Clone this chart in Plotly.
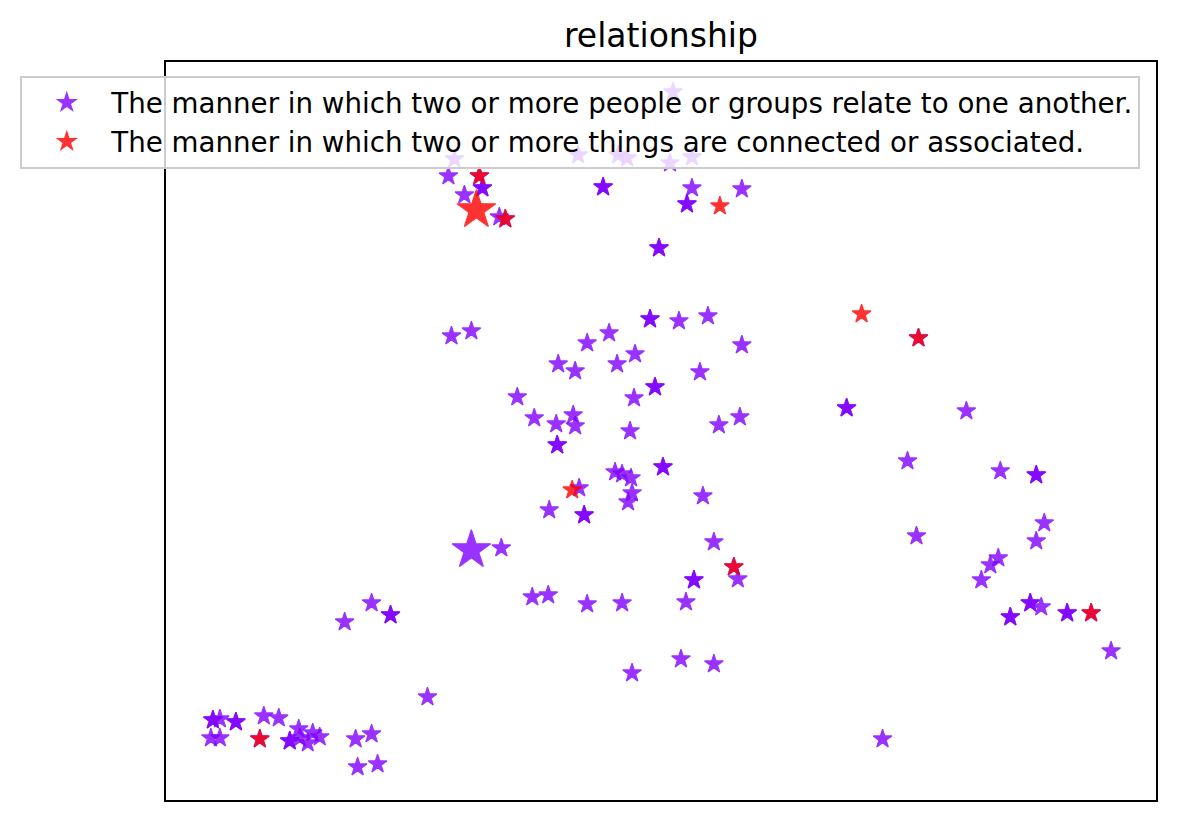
import plotly.graph_objects as go

# 2-D embedding of usages of "relationship" (arbitrary units, axes carry no ticks)
title = "relationship"
sense_labels = [
    "The manner in which two or more people or groups relate to one another.",
    "The manner in which two or more things are connected or associated.",
]
sense_colors = ["#8000ff", "#ff0000"]

# sense 0 usages (repeated pairs overlap and look darker)
people_x = [
    # top cluster
    289, 283, 317, 317, 299, 334, 413, 453, 462, 438, 438, 505, 527, 508, 527, 522, 522, 577,
    494, 494,
    # under the sense-1 points
    314, 340, 754, 569, 94, 927,
    # middle
    286, 306, 485, 485, 514, 543, 577, 422, 444, 393, 410, 452, 470, 535, 490, 490, 469, 352,
    369, 391, 408, 410, 465, 554, 575, 392, 392, 498, 498, 450, 457, 466, 414, 467, 463, 538,
    384, 419, 419, 549, 336,
    # lower middle
    573, 529, 529, 367, 383, 422, 457, 521, 206, 225, 225, 179, 262, 467, 516, 549,
    # bottom left
    47, 47, 54, 70, 70, 98, 113, 45, 54, 124, 124, 133, 134, 142, 147, 154, 190, 206, 192, 212,
    # right
    682, 682, 802, 743, 836, 872, 872, 880, 872, 752, 834, 826, 817, 866, 866, 877, 846, 846,
    903, 903, 947, 718,
]
people_y = [
    641, 624, 612, 612, 605, 583, 645, 645, 642, 613, 613, 637, 643, 708, 612, 596, 596, 611,
    552, 552,
    624, 581, 462, 233, 61, 187,
    464, 469, 481, 481, 479, 484, 455, 457, 467, 436, 429, 436, 446, 428, 413, 413, 402, 403,
    382, 376, 385, 374, 369, 375, 383, 355, 355, 333, 333, 328, 326, 322, 312, 307, 298, 304,
    290, 285, 285, 258, 252,
    221, 220, 220, 203, 205, 196, 197, 198, 197, 185, 185, 178, 103, 127, 141, 136,
    80, 80, 81, 78, 78, 84, 82, 62, 62, 59, 59, 71, 62, 57, 67, 63, 61, 66, 33, 36,
    392, 392, 389, 339, 329, 325, 325, 277, 259, 264, 242, 235, 220, 197, 197, 193, 183, 183,
    187, 187, 149, 61,
]

# sense 1 usages
things_x = [314, 340, 555, 407, 569, 94, 697, 754, 927]
things_y = [624, 581, 594, 310, 233, 61, 486, 462, 187]

# sense centroids (sense 0, sense 1)
centroid_x = [306, 311]
centroid_y = [250, 590]

fig = go.Figure()
fig.add_trace(go.Scatter(
    x=people_x, y=people_y, mode="markers", name=sense_labels[0],
    marker=dict(symbol="star", size=14, color=sense_colors[0], opacity=0.8,
                line=dict(color=sense_colors[0], width=1.2)),
))
fig.add_trace(go.Scatter(
    x=things_x, y=things_y, mode="markers", name=sense_labels[1],
    marker=dict(symbol="star", size=14, color=sense_colors[1], opacity=0.8,
                line=dict(color=sense_colors[1], width=1.2)),
))
fig.add_trace(go.Scatter(
    x=centroid_x, y=centroid_y, mode="markers", showlegend=False,
    marker=dict(symbol="star", size=29, color=sense_colors, opacity=0.8,
                line=dict(color=sense_colors, width=1.2)),
))

axis_style = dict(showline=True, mirror=True, linecolor="black", linewidth=2,
                  showticklabels=False, ticks="", showgrid=False, zeroline=False)

# the page body has an 8px margin, so the figure is a little smaller than the window
fig.update_layout(
    width=1161, height=805,
    margin=dict(l=158, r=11, t=54, b=13),
    paper_bgcolor="white", plot_bgcolor="white",
    font=dict(family="DejaVu Sans", color="black"),
    title=dict(text=title, x=0.5, xref="paper", y=1 - 27 / 805, yref="container",
               xanchor="center", yanchor="middle", font=dict(size=33)),
    xaxis=dict(range=[0, 992], **axis_style),
    yaxis=dict(range=[0, 738], **axis_style),
    legend=dict(x=-0.1472, y=0.981, xanchor="left", yanchor="top",
                bgcolor="rgba(255,255,255,0.8)", bordercolor="#cccccc", borderwidth=2,
                font=dict(size=27.7), itemwidth=79),
)

fig.write_html("out.html")
